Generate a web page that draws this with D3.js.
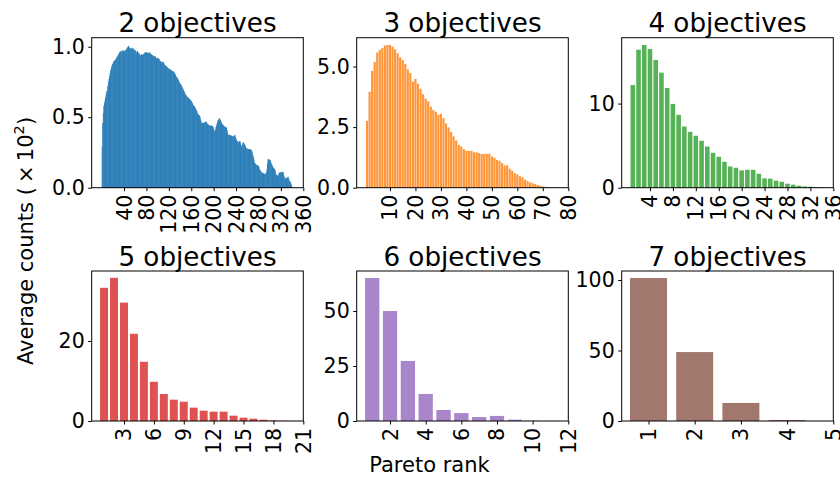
<!DOCTYPE html>
<html><head><meta charset="utf-8">
<script src="https://cdn.jsdelivr.net/npm/d3@7"></script>
<style>
html,body{margin:0;padding:0;background:#fff;}
svg{display:block;font-family:"DejaVu Sans",sans-serif;}
</style></head>
<body><svg id="chart" width="840" height="477"></svg>
<script>
// ---------- data ----------
const titles = ["2 objectives","3 objectives","4 objectives","5 objectives","6 objectives","7 objectives"];
const colors = ["#1f77b4","#ff7f0e","#2ca02c","#d62728","#9467bd","#8c564b"];

const obj2 = [
0.29,0.46,0.53,0.58,0.60,0.62,0.64,0.66,0.68,0.69,
0.72,0.745,0.77,0.79,0.81,0.83,0.846,0.86,0.873,0.88,
0.89,0.898,0.90,0.905,0.91,0.915,0.925,0.93,0.937,0.945,
0.95,0.96,0.965,0.97,0.962,0.965,0.972,0.976,0.97,0.965,
0.968,0.976,0.976,0.98,0.988,0.995,1.0,1.007,0.998,0.993,
0.99,0.985,0.983,0.99,0.993,0.988,0.983,0.98,0.976,0.975,
0.965,0.96,0.965,0.97,0.96,0.955,0.953,0.945,0.936,0.94,
0.946,0.945,0.943,0.941,0.948,0.953,0.957,0.96,0.96,0.96,
0.96,0.957,0.953,0.955,0.958,0.96,0.952,0.946,0.946,0.941,
0.94,0.935,0.93,0.932,0.936,0.93,0.92,0.917,0.92,0.922,
0.918,0.913,0.91,0.903,0.898,0.893,0.889,0.89,0.893,0.893,
0.885,0.875,0.87,0.866,0.862,0.86,0.857,0.85,0.846,0.845,
0.843,0.84,0.837,0.835,0.83,0.828,0.826,0.824,0.822,0.815,
0.81,0.80,0.79,0.785,0.78,0.775,0.765,0.755,0.745,0.74,
0.735,0.728,0.72,0.712,0.705,0.695,0.687,0.678,0.668,0.66,
0.655,0.65,0.645,0.64,0.638,0.633,0.63,
0.625,0.62,0.615,0.61,0.60,0.59,0.585,0.58,0.575,0.57,
0.56,0.552,0.545,0.53,0.52,0.518,0.515,0.511,0.50,0.48,
0.465,0.46,0.458,0.456,0.46,0.462,0.463,0.465,0.468,0.468,
0.46,0.452,0.449,0.447,0.442,0.44,0.44,0.441,0.44,0.438,
0.435,0.433,0.42,0.405,0.397,0.41,0.43,0.44,0.455,0.47,
0.48,0.485,0.49,0.492,0.48,0.47,0.463,0.455,0.448,0.444,
0.44,0.436,0.433,0.43,0.428,0.426,0.41,0.39,0.374,0.376,
0.375,0.374,0.372,0.37,0.369,0.366,0.364,0.362,0.367,0.372,
0.374,0.36,0.348,0.338,0.332,0.326,0.322,0.326,0.33,0.331,
0.318,0.30,0.291,0.305,0.318,0.322,0.315,0.308,0.303,0.292,
0.283,0.279,0.277,0.275,0.274,0.274,0.275,0.274,0.27,0.268,
0.267,0.25,0.23,0.22,0.20,0.18,0.173,0.168,0.163,0.161,
0.159,0.157,0.156,0.145,0.13,0.125,0.118,0.11,0.109,0.105,
0.103,0.102,0.10,0.096,0.095,0.10,0.11,0.13,0.17,0.20,
0.203,0.20,0.198,0.196,0.185,0.17,0.163,0.155,0.145,0.14,
0.135,0.132,0.12,0.10,0.09,0.088,0.086,0.085,0.095,0.105,
0.109,0.11,0.108,0.109,0.11,0.112,0.113,0.095,0.08,0.071,
0.069,0.067,0.066,0.07,0.075,0.078,0.065,0.052,0.047,0.04,
0.03,0.019];

const obj3 = [2.76,3.96,4.82,5.19,5.58,5.69,5.76,5.87,5.89,5.89,5.82,5.71,5.55,5.38,5.27,5.11,4.89,4.73,4.37,4.49,
4.29,4.08,3.86,3.68,3.56,3.35,3.21,3.13,3.01,3.05,2.87,2.65,2.49,2.29,2.12,1.95,1.77,1.70,1.59,1.52,
1.52,1.52,1.46,1.46,1.43,1.39,1.39,1.40,1.40,1.29,1.24,1.15,1.11,1.02,0.92,0.92,0.78,0.70,0.60,0.55,
0.47,0.43,0.33,0.27,0.22,0.19,0.15,0.11,0.08,0.05,0.04,0.03,0.02];

const obj4 = [12.2,16.4,16.96,16.48,15.18,13.68,11.86,9.96,8.66,7.27,6.64,6.17,5.57,4.90,4.15,3.68,3.08,2.53,2.37,2.06,
2.13,2.13,1.66,1.11,1.07,0.83,0.71,0.47,0.36,0.24,0.16,0.12,0.08,0.03];

const obj5 = [33.3,35.8,29.6,21.8,14.8,9.8,6.75,5.33,4.83,3.33,2.58,2.33,2.33,1.33,0.83,0.58,0.33,0.15,0.05,0.02];

const obj6 = [65.0,50.0,27.3,12.3,5.0,3.6,1.8,2.3,0.6,0.1,0.03];

const obj7 = [101.4,48.9,12.8,0.7];

const xTicks2 = [40,80,120,160,200,240,280,320,360];
const xTicks3 = [10,20,30,40,50,60,70,80];
const xTicks4 = [4,8,12,16,20,24,28,32,36];
const xTicks5 = [3,6,9,12,15,18,21];
const xTicks6 = [2,4,6,8,10,12];
const xTicks7 = [1,2,3,4,5];

const yTicks2 = [0,0.5,1.0];
const yTicks3 = [0,2.5,5.0];
const yTicks4 = [0,10];
const yTicks5 = [0,20];
const yTicks6 = [0,25,50];
const yTicks7 = [0,50,100];

const yLabelText = "Average counts (\u2009\u00d7\u200910";
const xLabelText = "Pareto rank";

// ---------- layout ----------
const cols = [91.7, 356.7, 621.7];
const rows = [37.7, 271];
const PW = 211.6, PH = 150;
const TICK_FS = 20.5, TITLE_FS = 26.2, LABEL_FS = 21;

const panels = [
  {title:titles[0], values:obj2, color:colors[0], xd:[-17.7,360], yd:[0,1.064], xt:xTicks2, yt:yTicks2, fmt:d3.format(".1f"), bw:1.7, op:0.95},
  {title:titles[1], values:obj3, color:colors[1], xd:[-3.06,80], yd:[0,6.19], xt:xTicks3, yt:yTicks3, fmt:d3.format(".1f"), bw:0.85, op:0.82},
  {title:titles[2], values:obj4, color:colors[2], xd:[-0.94,36], yd:[0,17.83], xt:xTicks4, yt:yTicks4, fmt:d3.format("d"), bw:0.8, op:0.8},
  {title:titles[3], values:obj5, color:colors[3], xd:[-0.24,21], yd:[0,37.5], xt:xTicks5, yt:yTicks5, fmt:d3.format("d"), bw:0.8, op:0.8},
  {title:titles[4], values:obj6, color:colors[4], xd:[0.13,12], yd:[0,68.2], xt:xTicks6, yt:yTicks6, fmt:d3.format("d"), bw:0.8, op:0.8},
  {title:titles[5], values:obj7, color:colors[5], xd:[0.42,5], yd:[0,106.4], xt:xTicks7, yt:yTicks7, fmt:d3.format("d"), bw:0.8, op:0.8}
];

const svg = d3.select("#chart");

panels.forEach((p, i) => {
  const left = cols[i % 3], top = rows[Math.floor(i / 3)];
  const g = svg.append("g").attr("transform", `translate(${left},${top})`);
  const x = d3.scaleLinear().domain(p.xd).range([0, PW]);
  const y = d3.scaleLinear().domain(p.yd).range([PH, 0]);

  const data = p.values.map((v, k) => ({rank: k + 1, v}));
  const half = p.bw / 2;
  g.append("g").attr("opacity", p.op).selectAll("rect").data(data).join("rect")
    .attr("x", d => x(d.rank - half))
    .attr("width", d => x(d.rank + half) - x(d.rank - half))
    .attr("y", d => y(d.v))
    .attr("height", d => y(0) - y(d.v))
    .attr("fill", p.color);

  // x axis
  const xa = g.append("g").attr("transform", `translate(0,${PH})`)
    .call(d3.axisBottom(x).tickValues(p.xt).tickFormat(d3.format("d")).tickSize(3.5).tickPadding(3.5));
  xa.select(".domain").remove();
  xa.selectAll("line").attr("stroke", "#000").attr("stroke-width", 1);
  xa.selectAll("text")
    .attr("font-size", TICK_FS).attr("font-family", "DejaVu Sans").attr("fill", "#000")
    .attr("transform", "rotate(-90)")
    .attr("text-anchor", "end")
    .attr("x", -7).attr("y", 0).attr("dy", "0.34em");

  // y axis
  const ya = g.append("g")
    .call(d3.axisLeft(y).tickValues(p.yt).tickFormat(p.fmt).tickSize(3.5).tickPadding(3.5));
  ya.select(".domain").remove();
  ya.selectAll("line").attr("stroke", "#000").attr("stroke-width", 1);
  ya.selectAll("text")
    .attr("font-size", TICK_FS).attr("font-family", "DejaVu Sans").attr("fill", "#000");

  // frame
  g.append("rect").attr("x", 0).attr("y", 0).attr("width", PW).attr("height", PH)
    .attr("fill", "none").attr("stroke", "#000").attr("stroke-width", 1);

  // title
  g.append("text").attr("x", PW / 2).attr("y", -5.4)
    .attr("text-anchor", "middle").attr("font-size", TITLE_FS).attr("fill", "#000")
    .text(p.title);
});

// y label
const yl = svg.append("text")
  .attr("transform", "translate(32.5,241) rotate(-90)")
  .attr("text-anchor", "middle").attr("font-size", LABEL_FS).attr("fill", "#000");
yl.append("tspan").text(yLabelText);
yl.append("tspan").attr("font-size", LABEL_FS * 0.7).attr("dy", -9).text("2");
yl.append("tspan").attr("dy", 9).text(")");

// x label
svg.append("text").attr("x", 429.5).attr("y", 472)
  .attr("text-anchor", "middle").attr("font-size", LABEL_FS).attr("fill", "#000")
  .text(xLabelText);
</script>
</body></html>
